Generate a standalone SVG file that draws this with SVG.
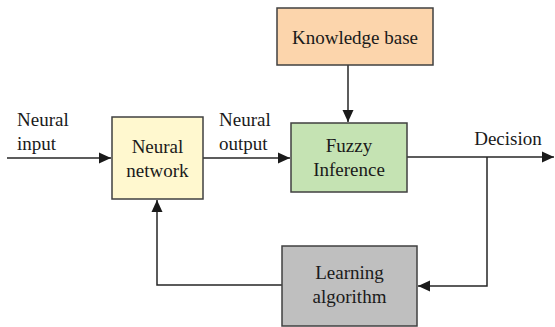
<svg xmlns="http://www.w3.org/2000/svg" width="555" height="327" viewBox="0 0 555 327">
  <style>
    .box { stroke: #404040; stroke-width: 1.5; }
    .wire { fill: none; stroke: #262626; stroke-width: 1.5; }
    text { font-family: 'Liberation Serif', 'Times New Roman', Tinos, 'DejaVu Serif', serif; font-size: 19px; fill: #1a1a1a; }
    .c { text-anchor: middle; }
  </style>
  <defs>
    <!-- solid triangular arrowhead shared by all connectors -->
    <marker id="arrow" viewBox="0 0 12 12" refX="12" refY="6" markerWidth="12" markerHeight="12" markerUnits="userSpaceOnUse" orient="auto">
      <path d="M0,0.5 L12,6 L0,11.5 z" fill="#1a1a1a"/>
    </marker>
  </defs>
  <rect width="555" height="327" fill="#ffffff"/>

  <g id="connectors">
    <path class="wire" d="M7,158 H111" marker-end="url(#arrow)"/>
    <path class="wire" d="M203,158 H290" marker-end="url(#arrow)"/>
    <path class="wire" d="M348,65 V122" marker-end="url(#arrow)"/>
    <path class="wire" d="M407,157 H554" marker-end="url(#arrow)"/>
    <path class="wire" d="M487,157 V286 H418" marker-end="url(#arrow)"/>
    <path class="wire" d="M282,285 H157 V200" marker-end="url(#arrow)"/>
  </g>

  <g id="label-neural-input">
    <text x="17" y="126">Neural</text>
    <text x="17" y="150">input</text>
  </g>
  <g id="label-neural-output">
    <text x="219" y="126">Neural</text>
    <text x="219" y="150">output</text>
  </g>
  <g id="label-decision">
    <text class="c" x="508" y="145">Decision</text>
  </g>

  <g id="neural-network">
    <rect class="box" x="112" y="117" width="91" height="82" fill="#fff8cf"/>
    <text class="c" x="157.5" y="153">Neural</text>
    <text class="c" x="157.5" y="177">network</text>
  </g>
  <g id="knowledge-base">
    <rect class="box" x="277" y="8" width="156" height="57" fill="#fcd5ac"/>
    <text class="c" x="355" y="44">Knowledge base</text>
  </g>
  <g id="fuzzy-inference">
    <rect class="box" x="291" y="123" width="116" height="69" fill="#c5e3b3"/>
    <text class="c" x="349" y="152">Fuzzy</text>
    <text class="c" x="349" y="176">Inference</text>
  </g>
  <g id="learning-algorithm">
    <rect class="box" x="282" y="246" width="135" height="80" fill="#bfbfbf"/>
    <text class="c" x="349.5" y="279">Learning</text>
    <text class="c" x="349.5" y="303">algorithm</text>
  </g>
</svg>
